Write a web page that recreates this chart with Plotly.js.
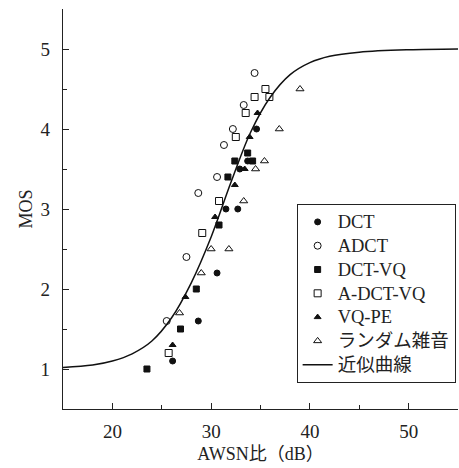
<!DOCTYPE html>
<html>
<head>
<meta charset="utf-8">
<script src="https://cdn.plot.ly/plotly-3.0.1.min.js"></script>
<style>html,body{margin:0;padding:0;background:#fff;}#chart{width:459px;height:468px;}</style>
</head>
<body>
<div id="chart"></div>
<script>
// Data
const dctX = [34.6, 33.7, 32.9, 31.5, 32.7, 30.6, 28.7, 26.1];
const dctY = [4.0, 3.6, 3.5, 3.0, 3.0, 2.2, 1.6, 1.1];

const adctX = [34.4, 33.3, 32.2, 31.3, 30.6, 28.7, 27.5, 25.5];
const adctY = [4.7, 4.3, 4.0, 3.8, 3.4, 3.2, 2.4, 1.6];

const dctvqX = [33.7, 32.4, 34.2, 31.7, 30.8, 28.5, 26.9, 23.5];
const dctvqY = [3.7, 3.6, 3.6, 3.4, 2.8, 2.0, 1.5, 1.0];

const adctvqX = [35.5, 34.4, 35.9, 33.5, 32.5, 30.8, 29.1, 25.7];
const adctvqY = [4.5, 4.4, 4.4, 4.2, 3.9, 3.1, 2.7, 1.2];

const vqpeX = [34.7, 33.9, 33.4, 32.4, 30.4, 27.4, 26.1];
const vqpeY = [4.2, 3.9, 3.5, 3.3, 2.9, 1.9, 1.3];

const randX = [39.0, 36.9, 35.4, 34.5, 33.3, 30.0, 31.8, 29.0, 26.8];
const randY = [4.5, 4.0, 3.6, 3.5, 3.1, 2.5, 2.5, 2.2, 1.7];

const curveX = [15, 18, 20, 22, 24, 26, 28, 30, 32, 34, 36, 38, 40, 42, 45, 50, 55];
const curveY = [1.02, 1.05, 1.10, 1.19, 1.35, 1.64, 2.08, 2.65, 3.33, 3.96, 4.40, 4.68, 4.83, 4.91, 4.96, 4.99, 5.00];

const names = ['DCT', 'ADCT', 'DCT-VQ', 'A-DCT-VQ', 'VQ-PE', 'ランダム雑音', '近似曲線'];
const xTicks = [20, 30, 40, 50];
const yTicks = [1, 2, 3, 4, 5];

const serif = '"Liberation Serif", "Times New Roman", "Noto Sans CJK JP", serif';

function label(s) {
  return '<span style="font-size:18.5px">' + s + '</span>';
}

function pts(x, y, name, symbol, size) {
  return {
    x: x, y: y, name: label(name), type: 'scatter', mode: 'markers',
    marker: {symbol: symbol, size: size, color: '#111', line: {color: '#111', width: 1}},
    cliponaxis: false
  };
}

const traces = [
  pts(dctX, dctY, names[0], 'circle', 6),
  pts(adctX, adctY, names[1], 'circle-open', 7),
  pts(dctvqX, dctvqY, names[2], 'square', 6),
  pts(adctvqX, adctvqY, names[3], 'square-open', 7),
  pts(vqpeX, vqpeY, names[4], 'triangle-up', 6),
  pts(randX, randY, names[5], 'triangle-up-open', 7),
  {x: curveX, y: curveY, name: label(names[6]), type: 'scatter', mode: 'lines',
   line: {color: '#111', width: 1.5, shape: 'spline', smoothing: 1.0}}
];

const layout = {
  width: 459, height: 468,
  margin: {l: 63, r: 1, t: 9, b: 59},
  paper_bgcolor: '#fff', plot_bgcolor: '#fff',
  font: {family: serif, color: '#222', size: 18},
  showlegend: true,
  legend: {
    x: 0.994, xanchor: 'right',
    y: 0.5125, yanchor: 'top',
    bordercolor: '#222', borderwidth: 1, bgcolor: '#fff',
    font: {family: serif, size: 16, color: '#222'},
    tracegroupgap: 0, itemwidth: 30
  },
  xaxis: {
    range: [15, 55], tickvals: xTicks, ticktext: xTicks.map(String),
    ticks: 'inside', ticklen: 6, tickwidth: 1, tickcolor: '#222',
    minor: {dtick: 5, ticks: 'inside', ticklen: 4, tickwidth: 1, tickcolor: '#222', tick0: 15},
    showline: true, linecolor: '#222', linewidth: 1.3, showgrid: false, zeroline: false,
    tickfont: {family: serif, size: 19, color: '#222'},
    ticklabelstandoff: 5,
    title: {text: 'AWSN比（dB）', font: {family: serif, size: 18, color: '#222'}, standoff: 6}
  },
  yaxis: {
    range: [0.5, 5.5], tickvals: yTicks, ticktext: yTicks.map(String),
    ticks: 'inside', ticklen: 6, tickwidth: 1, tickcolor: '#222',
    minor: {dtick: 0.5, tick0: 0.5, ticks: 'inside', ticklen: 4, tickwidth: 1, tickcolor: '#222'},
    showline: true, linecolor: '#222', linewidth: 1.3, showgrid: false, zeroline: false,
    tickfont: {family: serif, size: 19, color: '#222'},
    ticklabelstandoff: 8,
    title: {text: 'MOS', font: {family: serif, size: 18, color: '#222'}, standoff: 3}
  }
};

Plotly.newPlot('chart', traces, layout, {displayModeBar: false, staticPlot: true});
</script>
</body>
</html>
